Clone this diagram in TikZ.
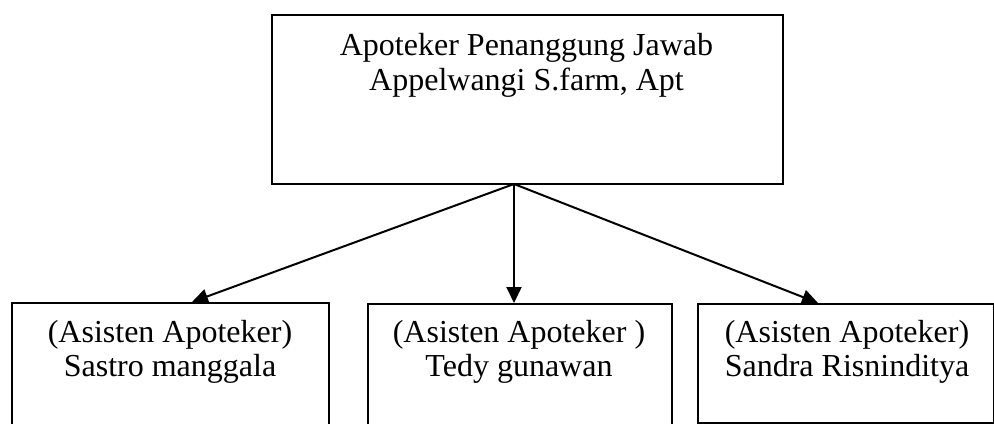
\documentclass[tikz,border=0pt]{standalone}
\usepackage{fontspec}
\setmainfont{Liberation Serif}
\usetikzlibrary{arrows.meta}
\begin{document}
\begin{tikzpicture}[x=0.5pt,y=-0.5pt,
  box/.style={draw, line width=1pt, rectangle, inner sep=0pt, anchor=north west},
  txt/.style={anchor=base, inner sep=0pt, font=\fontsize{16}{17.5}\selectfont},
  conn/.style={line width=1pt, -{Triangle[length=8pt,width=7.5pt]}}]
\useasboundingbox (0,0) rectangle (994,423);
\clip (0,0) rectangle (994,423);
\node[box, minimum width=255.5pt, minimum height=84.5pt] (top) at (271,14) {};
\node[box, minimum width=158.5pt, minimum height=70pt] (b1) at (11,302) {};
\node[box, minimum width=152pt, minimum height=70pt] (b2) at (367,303) {};
\node[box, minimum width=148pt, minimum height=59.5pt] (b3) at (697,303) {};
\node[txt] (t1) at (526.5,55) {Apoteker Penanggung Jawab};
\node[txt] (t2) at (526.5,90) {Appelwangi S.farm, Apt};
\node[txt] (l1a) at (170,342) {(Asisten Apoteker)};
\node[txt] (l1b) at (170,376) {Sastro manggala};
\node[txt] (l2a) at (519,342) {(Asisten Apoteker )};
\node[txt] (l2b) at (519,376) {Tedy gunawan};
\node[txt] (l3a) at (847,342) {(Asisten Apoteker)};
\node[txt] (l3b) at (847,376) {Sandra Risninditya};
\coordinate (o) at (514,184);
\coordinate (e1) at (192,302);
\coordinate (e2) at (514,303);
\coordinate (e3) at (818,303);
\draw[conn] (o) -- (e1);
\draw[conn] (o) -- (e2);
\draw[conn] (o) -- (e3);
\end{tikzpicture}
\end{document}
